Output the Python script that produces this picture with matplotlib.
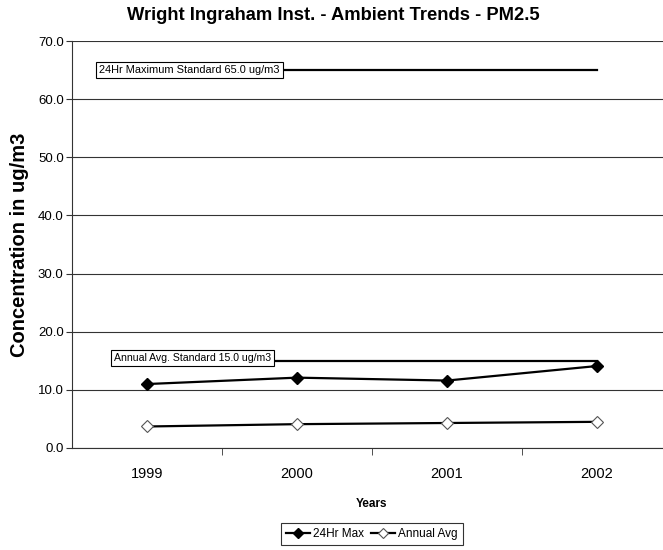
import matplotlib
matplotlib.use("Agg")
import matplotlib.pyplot as plt
from matplotlib.ticker import FixedLocator, NullFormatter

plt.rcParams['font.family'] = ['Liberation Sans', 'DejaVu Sans']

years = ['1999', '2000', '2001', '2002']
max24 = [11.0, 12.1, 11.6, 14.1]
annual = [3.7, 4.1, 4.3, 4.5]
std24_value = 65.0
stdann_value = 15.0
std24_label = '24Hr Maximum Standard 65.0 ug/m3'
stdann_label = 'Annual Avg. Standard 15.0 ug/m3'
yticks = [0, 10, 20, 30, 40, 50, 60, 70]

fig = plt.figure(figsize=(6.63, 5.5), dpi=100)
ax = fig.add_axes([72/663, 102/550, 600/663, 407/550])

x = list(range(len(years)))

# standard lines
ax.plot(x, [std24_value]*len(x), color='black', lw=1.6, zorder=3)
ax.plot(x, [stdann_value]*len(x), color='black', lw=1.6, zorder=3)

l1, = ax.plot(x, max24, color='black', lw=1.6, marker='D', ms=6,
              mfc='black', mec='black', zorder=4, label='24Hr Max')
l2, = ax.plot(x, annual, color='black', lw=1.6, marker='D', ms=6,
              mfc='white', mec='#555555', mew=0.8, zorder=4, label='Annual Avg')

ax.text(-0.32, std24_value, std24_label, fontsize=7.9, va='center', ha='left',
        zorder=6, bbox=dict(boxstyle='square,pad=0.3', fc='white', ec='black', lw=0.8))
ax.text(-0.22, stdann_value + 0.5, stdann_label, fontsize=7.6, va='center', ha='left',
        zorder=6, bbox=dict(boxstyle='square,pad=0.3', fc='white', ec='black', lw=0.8))

ax.set_xlim(-0.5, len(years) - 0.5)
ax.set_ylim(0, 70)
ax.set_yticks(yticks)
ax.set_yticklabels([f'{v:.1f}' for v in yticks], fontsize=9.5)
ax.yaxis.grid(True, color='#333333', lw=0.8)
ax.set_axisbelow(True)

ax.set_xticks(x)
ax.set_xticklabels(years, fontsize=10.5)
ax.tick_params(axis='x', which='major', length=0, pad=14)
ax.xaxis.set_minor_locator(FixedLocator([i + 0.5 for i in range(len(years) - 1)]))
ax.xaxis.set_minor_formatter(NullFormatter())
ax.tick_params(axis='x', which='minor', length=5, color='#333333')
ax.tick_params(axis='y', length=4, color='#333333', pad=2)

for s in ['top', 'right']:
    ax.spines[s].set_visible(False)
ax.spines['left'].set_color('#333333')
ax.spines['bottom'].set_color('#333333')

ax.set_xlabel('Years', fontsize=8.5, fontweight='bold', labelpad=12)
ax.set_ylabel('Concentration in ug/m3', fontsize=14.5, fontweight='bold', labelpad=6)

fig.text(0.503, 0.972, 'Wright Ingraham Inst. - Ambient Trends - PM2.5',
         fontsize=13.2, fontweight='bold', ha='center', va='center')

leg = fig.legend(handles=[l1, l2], loc='center', bbox_to_anchor=(372/663, 1 - 534/550),
                 ncol=2, fontsize=8.5, frameon=True, fancybox=False, handlelength=2.0,
                 handletextpad=0.3, columnspacing=0.6, borderpad=0.4, markerscale=0.8)
leg.get_frame().set_edgecolor('black')
leg.get_frame().set_linewidth(0.8)

fig.savefig('out.png', dpi=100)
